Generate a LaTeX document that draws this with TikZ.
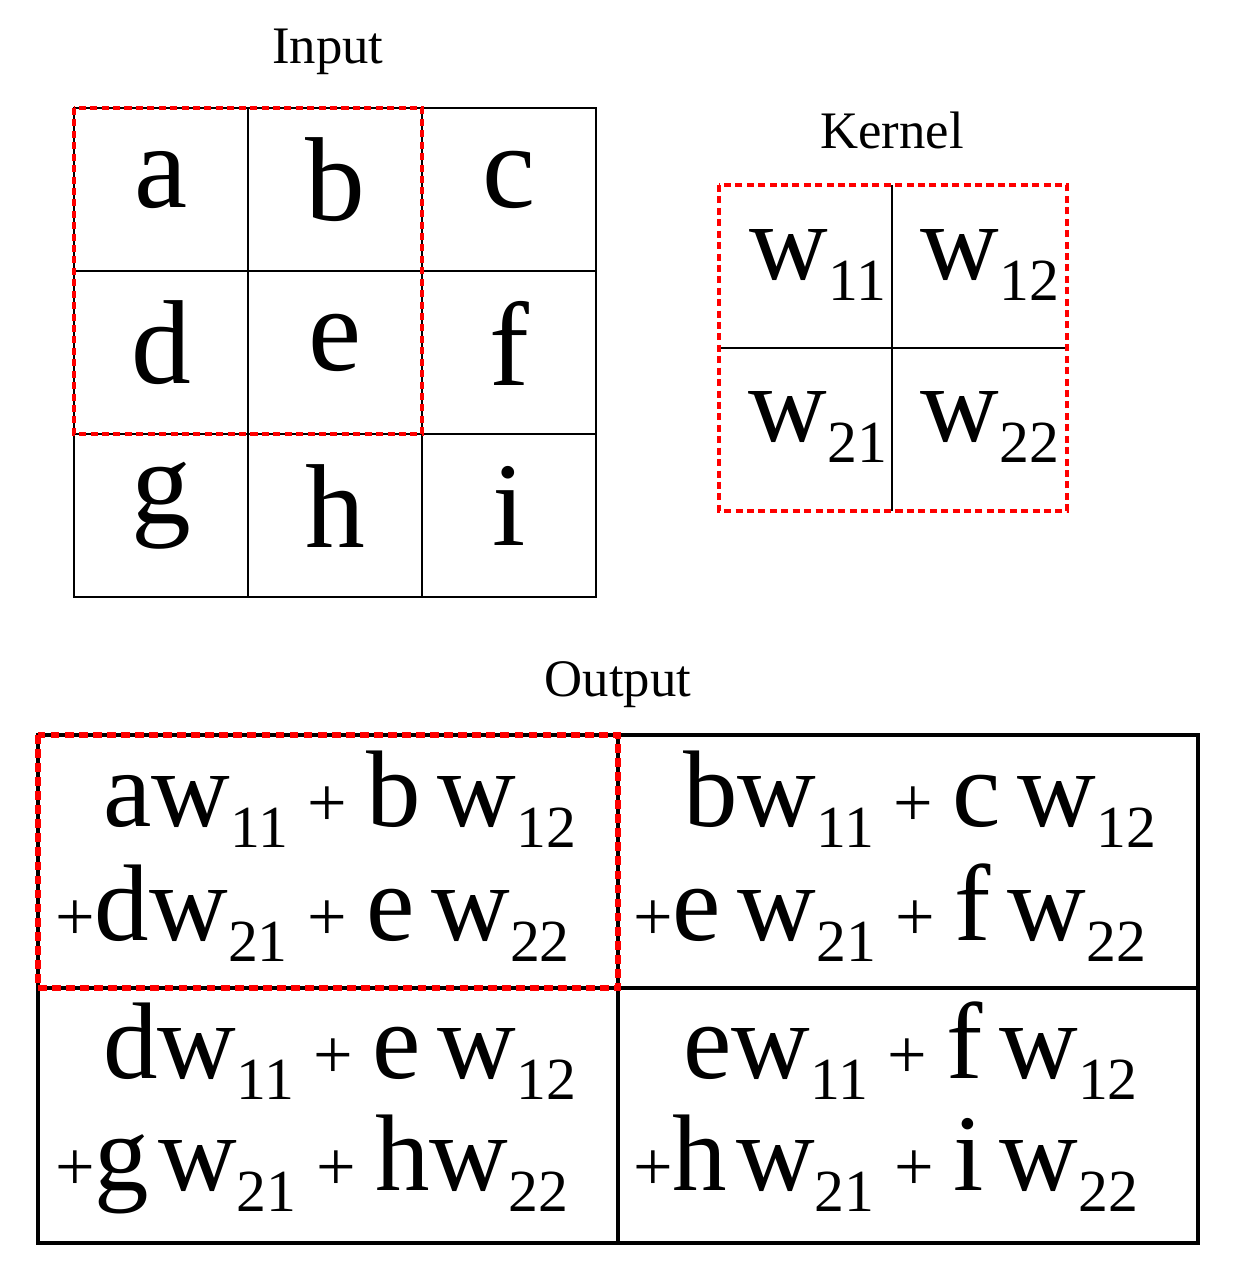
\documentclass[tikz,border=0pt]{standalone}
\usepackage{fontspec}
\setmainfont{Liberation Serif}
\newcommand{\sbx}[1]{\raisebox{-0.2em}{\fontsize{34}{34}\selectfont #1}}
\newcommand{\pls}{\hspace{0.18em}{\fontsize{40}{40}\selectfont +}\hspace{0.18em}}
\newcommand{\lpls}{{\fontsize{40}{40}\selectfont +}}
\tikzset{
  grid/.style={draw=black,line width=0.9pt},
  thick grid/.style={draw=black,line width=2.6pt},
  red box/.style={draw=red,line width=2.4pt,dash pattern=on 4pt off 2.5pt},
  red box thick/.style={draw=red,line width=3.2pt,dash pattern=on 5pt off 3pt},
  big/.style={font=\fontsize{68}{80}\selectfont},
  kern/.style={font=\fontsize{62}{70}\selectfont},
  outt/.style={font=\fontsize{62}{70}\selectfont,anchor=base west,inner sep=0},
  lab/.style={font=\fontsize{30}{34}\selectfont}
}
\begin{document}
\begin{tikzpicture}[x=0.02cm,y=-0.02cm]
\useasboundingbox (0,0) rectangle (1239,1282);
% Input
\node[lab] (tin) at (328,52) {Input};
\draw[grid] (74,108) rectangle (596,597);
\draw[grid] (248,108) -- (248,597) (422,108) -- (422,597) (74,271) -- (596,271) (74,434) -- (596,434);
\foreach \t/\x/\y in {a/161/180,b/335/180,c/509/180,d/161/343,e/335/343,f/509/343,g/161/506,h/335/506,i/509/506}
  \node[big] (in\t) at (\x,\y) {\t};
\draw[red box] (74,108) rectangle (422,434);
% Kernel
\node[lab] (tk) at (892,130) {Kernel};
\draw[grid] (892,185) -- (892,511) (719,348) -- (1067,348);
\node[kern] (k11) at (818,265) {w\sbx{11}};
\node[kern] (k12) at (990,265) {w\sbx{12}};
\node[kern] (k21) at (818,427) {w\sbx{21}};
\node[kern] (k22) at (990,427) {w\sbx{22}};
\draw[red box] (719,185) rectangle (1067,511);
% Output
\node[lab] (to) at (618,685) {Output};
\draw[thick grid] (38,735) rectangle (1198,1243);
\draw[thick grid] (618,735) -- (618,1243) (38,988) -- (1198,988);
\node[outt] (o1a) at (103,826) {aw\sbx{11}\pls b\hspace{0.15em}w\sbx{12}};
\node[outt] (o1b) at (55,940) {\lpls dw\sbx{21}\pls e\hspace{0.15em}w\sbx{22}};
\node[outt] (o2a) at (683,826) {bw\sbx{11}\pls c\hspace{0.15em}w\sbx{12}};
\node[outt] (o2b) at (633,940) {\lpls e\hspace{0.15em}w\sbx{21}\pls f\hspace{0.15em}w\sbx{22}};
\node[outt] (o3a) at (103,1078) {dw\sbx{11}\pls e\hspace{0.15em}w\sbx{12}};
\node[outt] (o3b) at (55,1190) {\lpls g\hspace{0.08em}w\sbx{21}\pls hw\sbx{22}};
\node[outt] (o4a) at (683,1078) {ew\sbx{11}\pls f\hspace{0.15em}w\sbx{12}};
\node[outt] (o4b) at (633,1190) {\lpls h\hspace{0.08em}w\sbx{21}\pls i\hspace{0.15em}w\sbx{22}};
\draw[red box thick] (38,735) rectangle (618,988);
\end{tikzpicture}
\end{document}
